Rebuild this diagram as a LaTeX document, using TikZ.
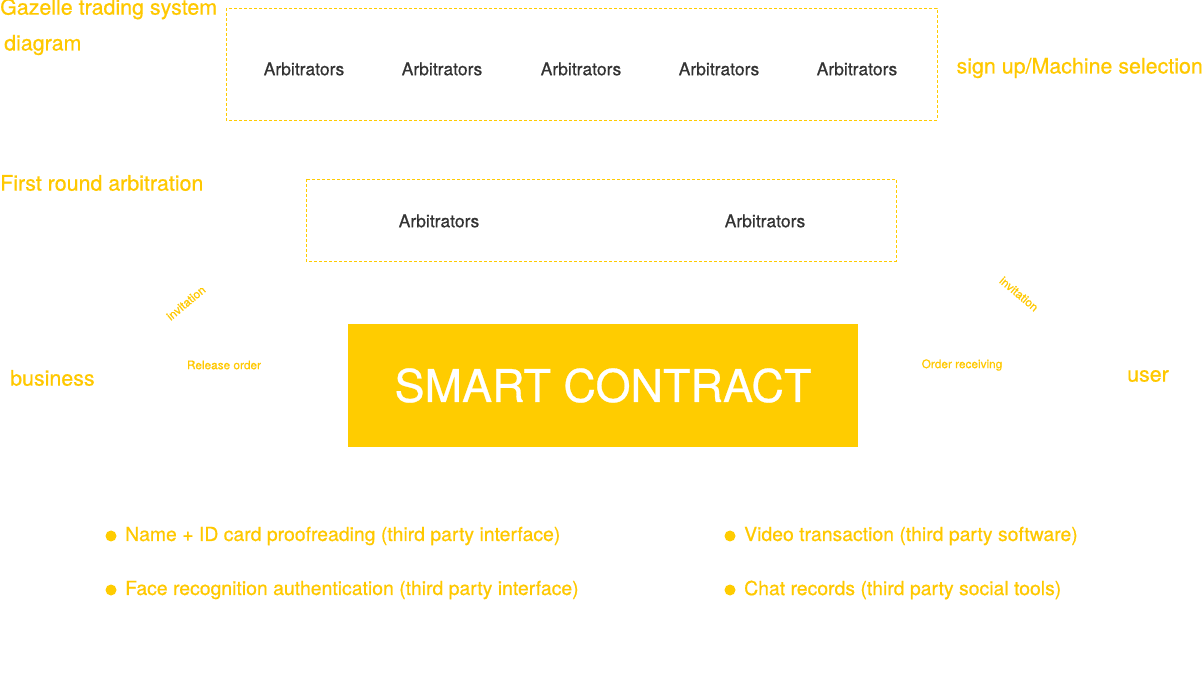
\documentclass[tikz,border=0pt]{standalone}
\usepackage{fontspec}
\setmainfont{TeX Gyre Heros}
\newfontfamily\medfont{TeX Gyre Heros}[FakeBold=0.6]
\definecolor{gold}{HTML}{FFCC00}
\definecolor{goldtxt}{HTML}{FFC800}
\definecolor{darktxt}{HTML}{333333}
\tikzset{
  arb/.style={text=darktxt,font=\medfont\fontsize{17.5}{20}\selectfont,inner sep=0pt},
  lbl/.style={text=goldtxt,font=\medfont\fontsize{21.4}{24}\selectfont,inner sep=0pt},
  small/.style={text=goldtxt,font=\medfont\fontsize{11.8}{13}\selectfont,inner sep=0pt},
  bul/.style={text=goldtxt,font=\medfont\fontsize{19.4}{22}\selectfont,inner sep=0pt,anchor=west},
  dot/.style={circle,fill=gold,inner sep=0pt,minimum size=11pt},
  dbox/.style={draw=gold,dashed,dash pattern=on 3pt off 2pt,line width=0.8pt}
}
\begin{document}
\begin{tikzpicture}[x=1pt,y=-1pt]
\useasboundingbox (0,0) rectangle (1203,700);
% top dashed box
\draw[dbox] (226,8) rectangle (937,120);
\foreach \x/\n in {304/a1,442/a2,581/a3,719/a4,857/a5}
  \node[arb] (\n) at (\x,69) {Arbitrators};
\node[lbl,anchor=west] (title1) at (0,9) {Gazelle trading system};
\node[lbl,anchor=west] (title2) at (4,45) {diagram};
\node[lbl,anchor=east] (signup) at (1203,68) {sign up/Machine selection};
% second box
\node[lbl,anchor=west] (first) at (0,183) {First round arbitration};
\draw[dbox] (306,179) rectangle (896,261);
\node[arb] (b1) at (439,221) {Arbitrators};
\node[arb] (b2) at (765,221) {Arbitrators};
% side labels
\node[small,rotate=40] (inv1) at (186,303) {invitation};
\node[small,rotate=-40] (inv2) at (1019,294) {invitation};
\node[small] (rel) at (224,365) {Release order};
\node[small] (ord) at (962,365) {Order receiving};
\node[lbl,anchor=west] (biz) at (10,378) {business};
\node[lbl] (user) at (1148,376) {user};
% smart contract
\node[fill=gold,minimum width=510pt,minimum height=123pt,inner sep=0pt,
      text=white,font=\medfont\fontsize{45}{50}\selectfont] (sc) at (603,385.5) {SMART CONTRACT};
% bullets
\node[dot] (d1) at (111,536) {};
\node[bul] (t1) at (125,536) {Name + ID card proofreading (third party interface)};
\node[dot] (d2) at (111,590) {};
\node[bul] (t2) at (125,590) {Face recognition authentication (third party interface)};
\node[dot] (d3) at (730,536) {};
\node[bul] (t3) at (744,536) {Video transaction (third party software)};
\node[dot] (d4) at (730,590) {};
\node[bul] (t4) at (744,590) {Chat records (third party social tools)};
\end{tikzpicture}
\end{document}
